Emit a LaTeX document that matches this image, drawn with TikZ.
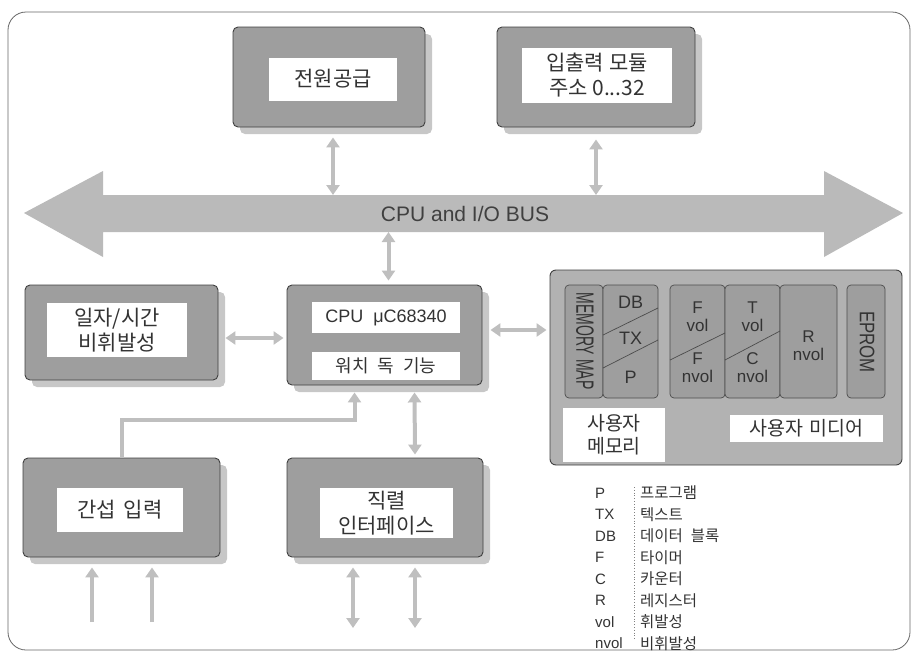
\documentclass[tikz,border=0pt]{standalone}
\usepackage{fontspec}
\setmainfont{Liberation Sans}
\newfontfamily\kr{Noto Sans CJK KR}
\usetikzlibrary{shadows,arrows.meta,calc}
\begin{document}
\begin{tikzpicture}[x=1pt,y=-1pt,
  blk/.style={draw=black!75, line width=0.9pt, fill=black!38, rounded corners=5pt,
    drop shadow={shadow xshift=7pt, shadow yshift=-7pt, fill=black!22, opacity=1}},
  lbl/.style={fill=white, inner sep=0pt, align=center, text=black!80,
    font=\kr\fontsize{21}{25}\selectfont},
  col/.style={draw=black!70, line width=0.7pt, fill=black!38, rounded corners=4pt,
    minimum height=113, inner sep=0pt},
  coltxt/.style={align=center, text=black!80, font=\fontsize{17}{18}\selectfont, inner sep=0pt},
  conn/.style={draw=black!25, line width=4pt,
    {Triangle[width=13pt,length=10pt]}-{Triangle[width=13pt,length=10pt]}},
  connup/.style={draw=black!25, line width=4pt, -{Triangle[width=13pt,length=10pt]}},
  legl/.style={anchor=west, inner sep=0pt, text=black!80, font=\fontsize{15}{15}\selectfont},
  legk/.style={anchor=west, inner sep=0pt, text=black!80, font=\kr\fontsize{15.5}{15.5}\selectfont},
]
\useasboundingbox (0,0) rectangle (916,654);
% outer frame
\draw[black!60, line width=0.8pt, rounded corners=18pt] (8,12) rectangle (910,650);

% bus
\fill[black!27] (24,213) -- (103,171) -- (103,195) -- (824,195) -- (824,171) -- (903,213)
  -- (824,257) -- (824,232) -- (103,232) -- (103,257) -- cycle;
\node[text=black!75, font=\fontsize{21}{21}\selectfont, inner sep=0pt] (bus) at (465,214) {CPU and I/O BUS};
\coordinate (bt) at (0,195);
\coordinate (bb) at (0,232);

% top boxes
\node[blk, minimum width=192, minimum height=100] (pwr) at (329,77) {};
\node[lbl, minimum width=128, minimum height=43] (pwrl) at (333,79) {전원공급};
\node[blk, minimum width=198, minimum height=100] (io) at (596,77) {};
\node[lbl, minimum width=150, minimum height=55] (iol) at (597,75) {입출력 모듈\\주소 0...32};

% middle boxes
\node[blk, minimum width=193, minimum height=95] (date) at (121.5,332.5) {};
\node[lbl, minimum width=140, minimum height=54] (datel) at (117,330) {일자/시간\\비휘발성};
\node[blk, minimum width=195, minimum height=100] (cpu) at (384.5,335) {};
\node[lbl, minimum width=148, minimum height=31, font=\fontsize{18}{18}\selectfont] (cpul1) at (386,317.5) {CPU\ \ μC68340};
\node[lbl, minimum width=148, minimum height=28, font=\kr\fontsize{18}{18}\selectfont] (cpul2) at (386,366) {워치\hspace{9pt}독\hspace{9pt}기능};

% bottom boxes
\node[blk, minimum width=197, minimum height=99] (int) at (121.5,507.5) {};
\node[lbl, minimum width=126, minimum height=44] (intl) at (120,510) {간섭\hspace{8pt}입력};
\node[blk, minimum width=196, minimum height=99] (ser) at (385,507.5) {};
\node[lbl, minimum width=133, minimum height=50] (serl) at (386.5,513) {직렬\\인터페이스};

% memory box
\node[draw=black!75, line width=0.9pt, fill=black!30, rounded corners=6pt,
  minimum width=352, minimum height=195] (mem) at (726,367.5) {};
\node[col, minimum width=38] (mm) at (584,341.5) {};
\node[col, minimum width=55] (db) at (630.5,341.5) {};
\node[col, minimum width=55] (fc) at (697.5,341.5) {};
\node[col, minimum width=55] (tc) at (752.5,341.5) {};
\node[col, minimum width=57] (rc) at (808.5,341.5) {};
\node[col, minimum width=38] (ep) at (866,341.5) {};
\node[rotate=-90, inner sep=0pt, text=black!80] (mmt) at (585,341)
  {\scalebox{0.56}[1]{\fontsize{25}{25}\selectfont MEMORY MAP}};
\node[rotate=-90, inner sep=0pt, text=black!80] (ept) at (867,342)
  {\scalebox{0.8}[1]{\fontsize{21}{21}\selectfont EPROM}};
\draw[black!70, line width=0.7pt] (603,335) -- (658,308);
\draw[black!70, line width=0.7pt] (603,368) -- (658,340);
\draw[black!70, line width=0.7pt] (670,360) -- (725,333);
\draw[black!70, line width=0.7pt] (725,360) -- (780,331);
\node[coltxt, font=\fontsize{18}{18}\selectfont] (dbt) at (630.5,302) {DB};
\node[coltxt, font=\fontsize{18}{18}\selectfont] (txt) at (630.5,338) {TX};
\node[coltxt, font=\fontsize{18}{18}\selectfont] (pt) at (630.5,377) {P};
\node[coltxt] (fv) at (697.5,317) {F\\vol};
\node[coltxt] (fn) at (697.5,368) {F\\nvol};
\node[coltxt] (tv) at (752.5,317) {T\\vol};
\node[coltxt] (cn) at (752.5,368) {C\\nvol};
\node[coltxt] (rn) at (808.5,346) {R\\nvol};
\node[lbl, minimum width=102, minimum height=54, font=\kr\fontsize{19.5}{23}\selectfont] (uml) at (614,435) {사용자\\메모리};
\node[lbl, minimum width=153, minimum height=27, font=\kr\fontsize{19.5}{23}\selectfont] (umd) at (806.5,428.5) {사용자\hspace{6pt}미디어};

% connectors
\draw[conn] ($(pwr.south)+(4,10)$) -- ($(pwr.south |- bt)+(4,0)$);
\draw[conn] ($(io.south)+(0,12)$) -- (io.south |- bt);
\draw[conn] ($(cpu.north |- bb)+(4,0)$) -- ($(cpu.north)+(4,-4)$);
\draw[conn] ($(date.east)+(7,5.5)$) -- ($(cpu.west |- date.east)+(-3,5.5)$);
\draw[conn] ($(cpu.east)+(8,-5)$) -- ($(cpu.east -| mem.west)+(-3,-5)$);
\draw[connup] (int.north) |- ($(cpu.south)+(-30,35)$) -- ($(cpu.south)+(-30,7)$);
\draw[conn] ($(ser.north)+(30,-3)$) -- ($(cpu.south)+(30,7)$);
\coordinate (i1) at (92,622);
\coordinate (i2) at (152,622);
\coordinate (s1) at (353,628);
\coordinate (s2) at (415,628);
\draw[connup] (i1) -- ($(i1 |- int.south)+(0,10)$);
\draw[connup] (i2) -- ($(i2 |- int.south)+(0,10)$);
\draw[conn] (s1) -- ($(s1 |- ser.south)+(0,10)$);
\draw[conn] (s2) -- ($(s2 |- ser.south)+(0,10)$);

% legend
\draw[black!50, dotted, line width=0.8pt] (634,487) -- (634,640);
\foreach \y/\a/\b [count=\i] in {493/P/프로그램, 514.5/TX/텍스트, 536/DB/데이터\hspace{8pt}블록,
  557.5/F/타이머, 579/C/카운터, 600.5/R/레지스터, 622/vol/휘발성, 643.5/nvol/비휘발성}{
  \node[legl] (la\i) at (595,\y) {\a};
  \node[legk] (lb\i) at (640,\y) {\b};
}
\end{tikzpicture}
\end{document}
